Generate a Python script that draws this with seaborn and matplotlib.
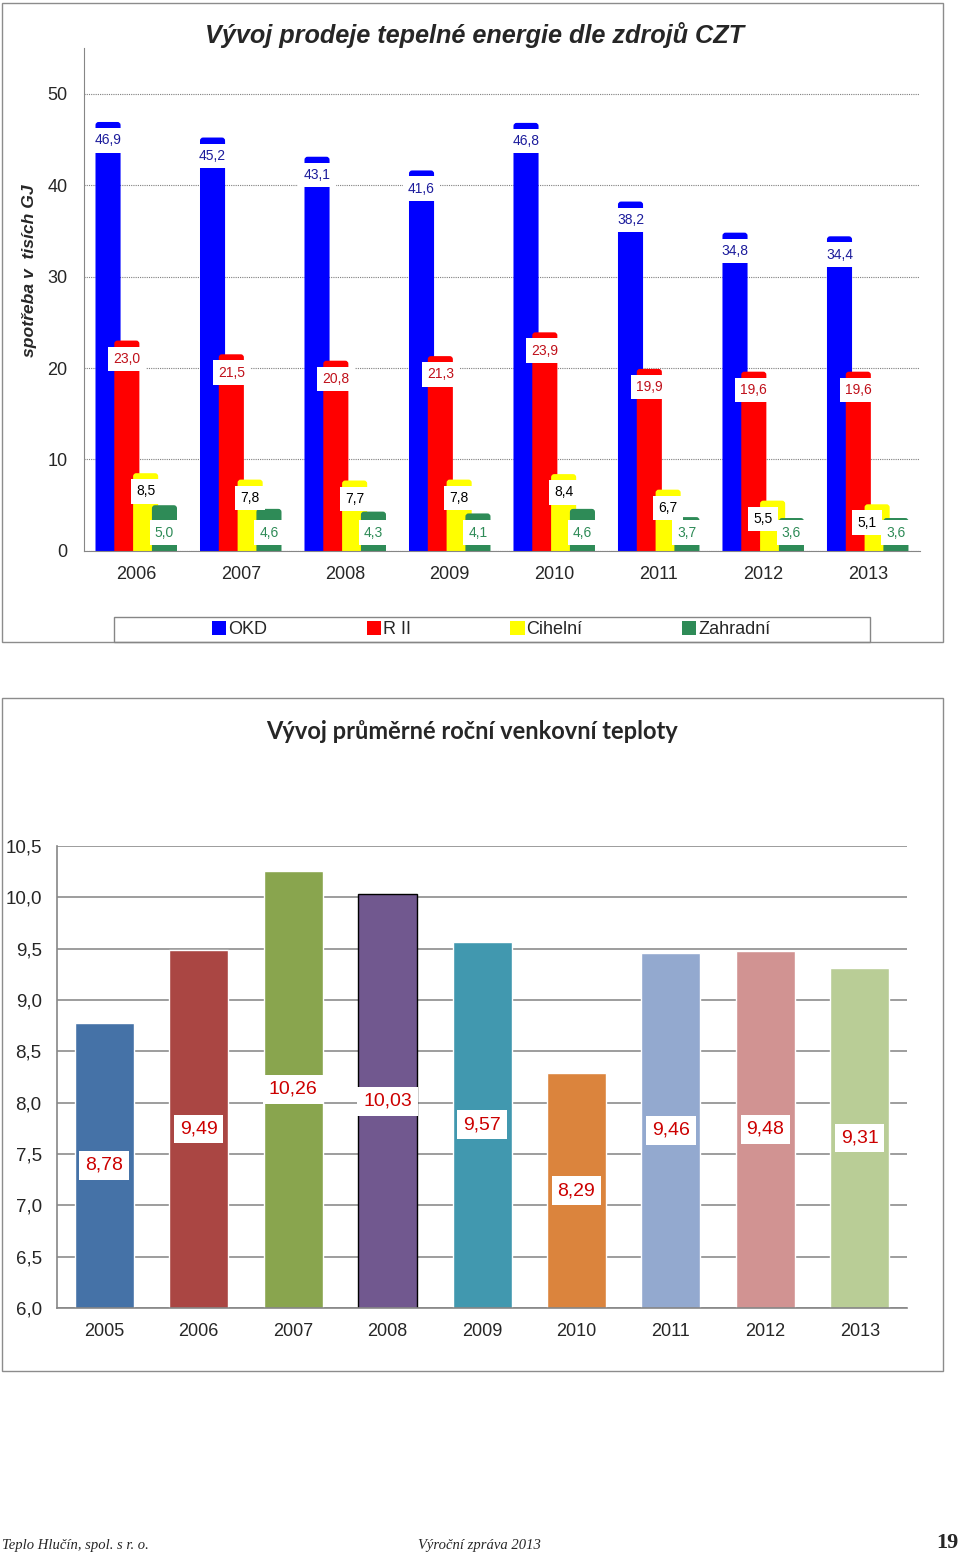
import numpy as np
import pandas as pd
import matplotlib
matplotlib.use("Agg")
import matplotlib.pyplot as plt
import seaborn as sns
from matplotlib.patches import Rectangle, Patch, FancyBboxPatch
from matplotlib.ticker import FuncFormatter, FixedLocator

# --- data: prodej tepelné energie (tis. GJ) ---
years_top = ["2006", "2007", "2008", "2009", "2010", "2011", "2012", "2013"]
sources = ["OKD", "R II", "Cihelní", "Zahradní"]
okd = [46.9, 45.2, 43.1, 41.6, 46.8, 38.2, 34.8, 34.4]
r_ii = [23.0, 21.5, 20.8, 21.3, 23.9, 19.9, 19.6, 19.6]
cihelni = [8.5, 7.8, 7.7, 7.8, 8.4, 6.7, 5.5, 5.1]
zahradni = [5.0, 4.6, 4.3, 4.1, 4.6, 3.7, 3.6, 3.6]

# --- data: průměrná roční venkovní teplota ---
years_temp = ["2005", "2006", "2007", "2008", "2009", "2010", "2011", "2012", "2013"]
temps = [8.78, 9.49, 10.26, 10.03, 9.57, 8.29, 9.46, 9.48, 9.31]

src_colors = ["#0000FF", "#FF0000", "#FFFF00", "#2E8B57"]
lbl_colors = ["#1C1C9C", "#C0101A", "#000000", "#2E8B57"]
lbl_zorder = [5, 6, 8, 7]
temp_colors = ["#4572A7", "#AA4643", "#89A54E", "#71588F", "#4198AF",
               "#DB843D", "#93A9CF", "#D19392", "#B9CD96"]

sns.set_style("white")
plt.rcParams["font.family"] = ["Liberation Sans", "DejaVu Sans"]

fig = plt.figure(figsize=(9.6, 15.55), dpi=100)
gray = "#868686"

def comma(v, nd):
    return f"{v:.{nd}f}".replace(".", ",")

# frames around the two charts
for (y0, h) in [(0.5871, 0.4109), (0.1183, 0.4328)]:
    fig.add_artist(Rectangle((0.0021, y0), 0.9802, h, transform=fig.transFigure,
                             fill=False, ec="#8C8C8C", lw=1.0))

# ===================== top chart =====================
ax1 = fig.add_axes([0.0875, 0.6457, 0.8708, 0.3235])
df = pd.DataFrame({
    "rok": years_top * 4,
    "zdroj": [s for s in sources for _ in years_top],
    "hodnota": okd + r_ii + cihelni + zahradni,
})
sns.barplot(data=df, x="rok", y="hodnota", hue="zdroj", palette=src_colors,
            width=0.72, gap=0, dodge=True, saturation=1, errorbar=None,
            legend=False, ax=ax1, zorder=2)

ax1.set_ylim(0, 55)
ax1.set_xlim(-0.5, len(years_top) - 0.5)

# pixel aspect of the data units -> rounded bar tops
bb = ax1.get_window_extent()
aspect = (55 / bb.height) / (len(years_top) / bb.width)

series = [okd, r_ii, cihelni, zahradni]
n = len(years_top)
green_lbl_y = 2.0
bars = list(ax1.patches)
for k, vals in enumerate(series):
    for i, p in enumerate(bars[k * n:(k + 1) * n]):
        cx = p.get_x() + p.get_width() / 2
        p.set_width(0.24)
        p.set_x(cx - 0.12)
        # redraw bar with rounded top corners (bottom hidden under the axis)
        rb = FancyBboxPatch((p.get_x(), -1), p.get_width(), p.get_height() + 1,
                            boxstyle="round,pad=0,rounding_size=0.03",
                            mutation_aspect=aspect, fc=p.get_facecolor(),
                            ec="none", zorder=2 + k * 0.01)
        ax1.add_patch(rb)
        p.set_visible(False)
        ly = green_lbl_y if k == 3 else vals[i] - 2.0
        lx = cx
        # yellow label pushed left when it would collide with the green one
        if k == 2 and ly - green_lbl_y < 2.6:
            lx = cx - 0.095
        ax1.text(lx, ly, comma(vals[i], 1), ha="center", va="center",
                 fontsize=10, color=lbl_colors[k], zorder=lbl_zorder[k],
                 bbox=dict(boxstyle="square,pad=0.38", fc="white", ec="none"))

ax1.set_yticks([0, 10, 20, 30, 40, 50])
ax1.yaxis.grid(True, color="#7F7F7F", lw=0.8, ls=(0, (1, 1)))
ax1.set_axisbelow(True)
ax1.set_xlabel("")
ax1.set_ylabel("")
for s in ["top", "right"]:
    ax1.spines[s].set_visible(False)
for s in ["left", "bottom"]:
    ax1.spines[s].set_color(gray)
ax1.tick_params(axis="y", length=6, color=gray, labelsize=13, pad=6)
ax1.tick_params(axis="x", which="major", length=0, labelsize=13, pad=11)
ax1.xaxis.set_minor_locator(FixedLocator(np.arange(-0.5, n, 1.0)))
ax1.tick_params(axis="x", which="minor", length=6, color=gray)

fig.text(0.4938, 0.9775, "Vývoj prodeje tepelné energie dle zdrojů CZT",
         ha="center", va="center", fontsize=18.2, fontweight="bold", style="italic")
fig.text(0.0312, 0.8257, "spotřeba v  tisích GJ", rotation=90, ha="center",
         va="center", fontsize=12.6, fontweight="bold", style="italic")

# legend
fig.add_artist(Rectangle((114 / 960, 1 - 642 / 1555), 756 / 960, 25 / 1555,
                         transform=fig.transFigure, fill=False, ec=gray, lw=1.0))
handles = [Patch(facecolor=c, edgecolor="none") for c in src_colors]
fig.legend(handles, sources, loc="center", bbox_to_anchor=(491 / 960, 1 - 629.5 / 1555),
           ncol=4, frameon=False, fontsize=13, handlelength=0.8, handleheight=0.8,
           handletextpad=0.1, columnspacing=5.5)

# ===================== bottom chart =====================
ax2 = fig.add_axes([0.0594, 0.1588, 0.8854, 0.2971])
sns.barplot(x=years_temp, y=temps, hue=years_temp, palette=temp_colors,
            width=0.625, saturation=1, errorbar=None, legend=False, ax=ax2, zorder=2)
base = 6.0
for i, p in enumerate(ax2.patches):
    if years_temp[i] == "2008":
        p.set_edgecolor("black")
        p.set_linewidth(1.0)
    cx = p.get_x() + p.get_width() / 2
    ax2.text(cx, (base + temps[i]) / 2, comma(temps[i], 2), ha="center", va="center",
             fontsize=14, color="#CC0000", zorder=5,
             bbox=dict(boxstyle="square,pad=0.3", fc="white", ec="none"))

ax2.set_ylim(base, 10.5)
ax2.set_xlim(-0.5, len(years_temp) - 0.5)
ax2.set_yticks(np.arange(6.0, 10.51, 0.5))
ax2.yaxis.set_major_formatter(FuncFormatter(lambda v, _: comma(v, 1)))
ax2.yaxis.grid(True, color="#8C8C8C", lw=1.2)
ax2.set_axisbelow(True)
for s in ["top", "right"]:
    ax2.spines[s].set_visible(False)
for s in ["left", "bottom"]:
    ax2.spines[s].set_color(gray)
    ax2.spines[s].set_linewidth(1.2)
ax2.tick_params(axis="y", length=6, color=gray, labelsize=13.5, pad=5)
ax2.tick_params(axis="x", which="major", length=0, labelsize=13, pad=11)
ax2.xaxis.set_minor_locator(FixedLocator(np.arange(-0.5, len(years_temp), 1.0)))
ax2.tick_params(axis="x", which="minor", length=6, color=gray)

fig.text(0.492, 0.5299, "Vývoj průměrné roční venkovní teploty", ha="center",
         va="center", fontsize=17, fontweight="bold", family=["Lato", "DejaVu Sans"])

# footer
fig.text(0.002, 1 - 1546 / 1555, "Teplo Hlučín, spol. s r. o.", ha="left", va="center",
         fontsize=10.5, style="italic", family=["Liberation Serif", "DejaVu Serif"])
fig.text(418 / 960, 1 - 1546 / 1555, "Výroční zpráva 2013", ha="left", va="center",
         fontsize=10.5, style="italic", family=["Liberation Serif", "DejaVu Serif"])
fig.text(0.998, 1 - 1543 / 1555, "19", ha="right", va="center", fontsize=16,
         fontweight="bold", family=["Liberation Serif", "DejaVu Serif"])

fig.savefig("out.png", dpi=100)
